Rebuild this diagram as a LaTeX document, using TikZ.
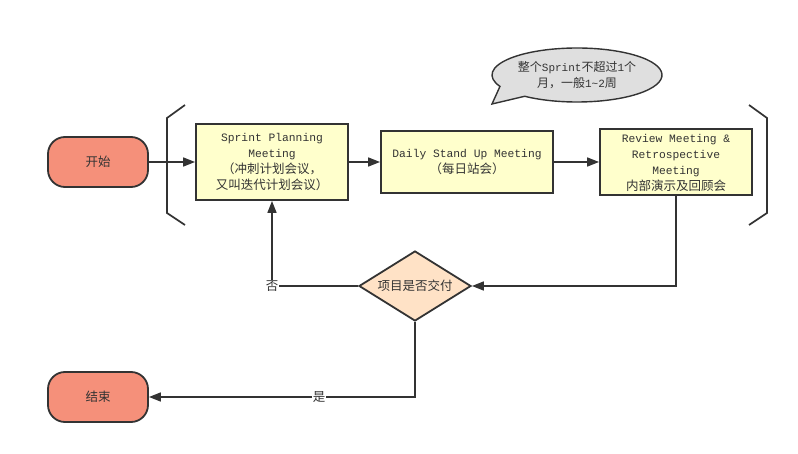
\documentclass[tikz,border=0pt]{standalone}
\usepackage{fontspec}
\setmainfont{Liberation Mono}
\newfontfamily\cjk{Noto Sans CJK SC}
\usetikzlibrary{shapes.geometric,arrows.meta,calc}
\definecolor{ink}{HTML}{333333}
\definecolor{salmon}{HTML}{F5907A}
\definecolor{boxyellow}{HTML}{FFFFCC}
\definecolor{peach}{HTML}{FFE2C6}
\definecolor{bubblegray}{HTML}{DFDFDF}
\newcommand\zh[1]{{\cjk\fontsize{12.5}{16}\selectfont #1}}
\tikzset{
  base/.style={draw=ink, line width=1.8pt, text=ink, align=center, inner sep=0pt,
    font=\fontsize{11.3}{16}\selectfont},
  terminal/.style={base, fill=salmon, rounded corners=17pt, minimum width=100pt, minimum height=50pt},
  process/.style={base, fill=boxyellow, rectangle},
  decision/.style={base, fill=peach, diamond, minimum width=112pt, minimum height=70pt, shape aspect=1.6},
  conn/.style={draw=ink, line width=1.5pt, -{Triangle[length=12pt,width=9pt]}},
  lbl/.style={fill=white, text=ink, inner sep=1pt},
  brk/.style={draw=ink, line width=1.7pt}
}
\begin{document}
\begin{tikzpicture}[x=1pt,y=1pt]
\useasboundingbox (0,0) rectangle (798,-454);
% brackets
\draw[brk] (185,-105) -- (167,-118) -- (167,-213) -- (185,-225);
\draw[brk] (749,-105) -- (767,-118) -- (767,-213) -- (749,-225);
% nodes
\node[terminal] (start) at (98,-162) {\zh{开始}};
\node[process, minimum width=152pt, minimum height=76pt] (sp) at (272,-162)
  {Sprint Planning\\Meeting\\\zh{（冲刺计划会议，}\\\zh{又叫迭代计划会议）}};
\node[process, minimum width=172pt, minimum height=62pt] (ds) at (467,-162)
  {Daily Stand Up Meeting\\\zh{（每日站会）}};
\node[process, minimum width=152pt, minimum height=66pt, text depth=0pt] (rv) at (676,-162)
  {Review Meeting \&\\Retrospective\\Meeting\\\zh{内部演示及回顾会}};
\node[decision] (dec) at (415,-286) {\zh{项目是否交付}};
\node[terminal] (end) at (98,-397) {\zh{结束}};
% bubble
\coordinate (bc) at (577,-75);
\coordinate (tip) at (492,-104);
\draw[draw=ink, line width=1.4pt, fill=bubblegray]
  (tip) -- ($(bc)+(232:85pt and 27pt)$) arc[start angle=232, end angle=565, x radius=85pt, y radius=27pt] -- cycle;
\node[text=ink, align=center, font=\fontsize{11}{16}\selectfont] (note) at (bc)
  {{\cjk\fontsize{12}{16}\selectfont 整个}Sprint{\cjk\fontsize{12}{16}\selectfont 不超过}1{\cjk\fontsize{12}{16}\selectfont 个}\\{\cjk\fontsize{12}{16}\selectfont 月，一般}1\textasciitilde 2{\cjk\fontsize{12}{16}\selectfont 周}};
% connectors
\draw[conn] (start.east) -- (sp.west);
\draw[conn] (sp.east) -- (ds.west);
\draw[conn] (ds.east) -- (rv.west);
\draw[conn] (rv.south) |- (dec.east);
\draw[conn] (dec.west) -| node[lbl, pos=0.5] {\zh{否}} (sp.south);
\draw[conn] (dec.south) |- node[lbl, pos=0.68] {\zh{是}} (end.east);
\end{tikzpicture}
\end{document}
